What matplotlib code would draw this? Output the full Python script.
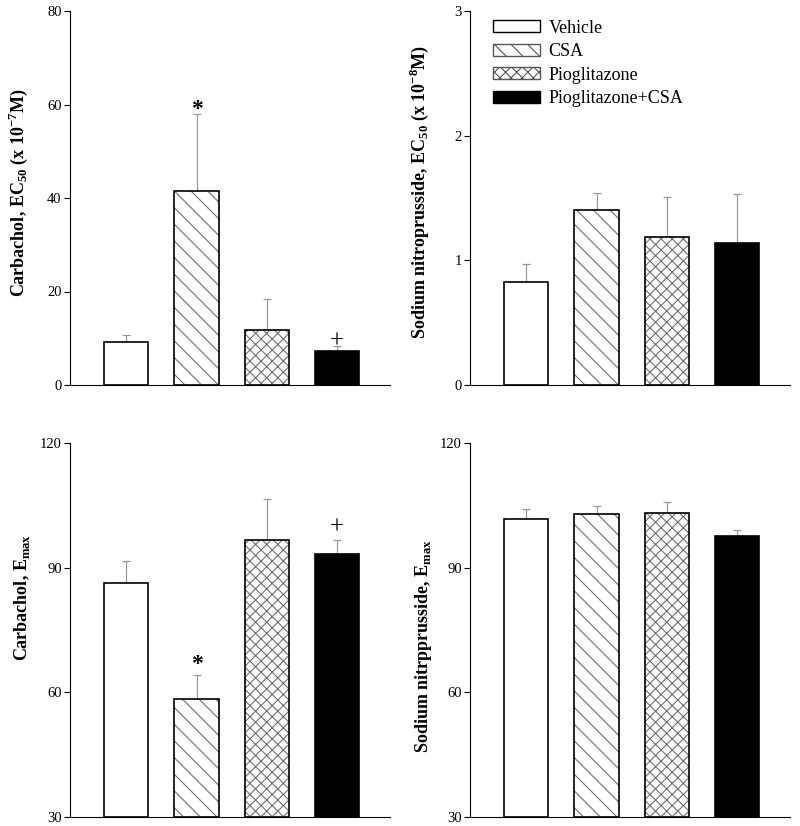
import numpy as np
import matplotlib.pyplot as plt
from matplotlib.patches import Patch

plt.rcParams['font.family'] = ['Liberation Serif', 'DejaVu Serif']
plt.rcParams['mathtext.fontset'] = 'custom'
plt.rcParams['mathtext.rm'] = 'Liberation Serif'
plt.rcParams['mathtext.bf'] = 'Liberation Serif:bold'
plt.rcParams['hatch.linewidth'] = 0.8

groups = ['Vehicle', 'CSA', 'Pioglitazone', 'Pioglitazone+CSA']

cch_ec50 = [9.1, 41.6, 11.8, 7.2]
cch_ec50_err = [1.6, 16.4, 6.5, 1.1]
snp_ec50 = [0.83, 1.40, 1.19, 1.14]
snp_ec50_err = [0.14, 0.14, 0.32, 0.39]
cch_emax = [86.2, 58.5, 96.6, 93.2]
cch_emax_err = [5.5, 5.7, 9.9, 3.4]
snp_emax = [101.8, 103.0, 103.1, 97.7]
snp_emax_err = [2.4, 1.9, 2.7, 1.3]

fills = ['white', 'white', 'white', 'black']
hatches = [None, '\\\\', 'xxx', None]
hatch_col = '#707070'

fig = plt.figure(figsize=(8.0, 8.26), dpi=100)
W, H = 800, 826


def make_ax(l, r, t, b):
    return fig.add_axes([l / W, 1 - b / H, (r - l) / W, (b - t) / H])


def draw_panel(ax, vals, errs, ylim, yticks, ylabel, label_xy, marks=None, legend=False):
    x = np.arange(1, 5)
    w = 0.63
    # hatch pass in grey, then black outline on top
    for i in range(4):
        ax.bar(x[i], vals[i] - ylim[0], w, bottom=ylim[0], color=fills[i],
               hatch=hatches[i], edgecolor=hatch_col, linewidth=0, zorder=2)
    for i in range(4):
        ax.bar(x[i], vals[i] - ylim[0], w, bottom=ylim[0], fill=False,
               edgecolor='black', linewidth=1.2, zorder=3)
    ax.errorbar(x, vals, yerr=[np.zeros(4), errs], fmt='none', ecolor='#9a9a9a',
                elinewidth=0.9, capsize=3, capthick=0.9, zorder=1)
    ax.set_xlim(0.2, 4.75)
    ax.set_ylim(*ylim)
    ax.set_yticks(yticks)
    ax.set_xticks([])
    for s in ['top', 'right']:
        ax.spines[s].set_visible(False)
    ax.tick_params(axis='y', direction='out', length=4, labelsize=10.5, pad=2)
    ax.set_ylabel(ylabel, fontsize=13, fontweight='bold')
    ax.yaxis.set_label_coords(*label_xy)
    if marks:
        for i, (txt, yv, fs) in marks.items():
            ax.text(x[i], yv, txt, ha='center', va='center', fontsize=fs,
                    fontweight='bold' if txt == '*' else 'normal', zorder=4)
    if legend:
        lh = [Patch(facecolor=fills[i], hatch=hatches[i], edgecolor='black',
                    linewidth=1.0) for i in range(4)]
        leg = ax.legend(lh, groups, loc='upper left', bbox_to_anchor=(0.02, 1.02),
                        frameon=False, fontsize=13, handlelength=2.65,
                        handleheight=0.65, labelspacing=0.36, handletextpad=0.45)
        for p in leg.get_patches():
            if p.get_hatch():
                p.set_edgecolor('#555555')


ax1 = make_ax(70, 390, 11, 385)
draw_panel(ax1, cch_ec50, cch_ec50_err, (0, 80), [0, 20, 40, 60, 80],
           r'Carbachol, EC$_{\mathbf{50}}$ (x 10$^{\mathbf{-7}}$M)', (-0.124, 0.513),
           marks={1: ('*', 59.0, 17), 3: ('+', 9.4, 18)})

ax2 = make_ax(470, 790, 11, 385)
draw_panel(ax2, snp_ec50, snp_ec50_err, (0, 3), [0, 1, 2, 3],
           r'Sodium nitroprusside, EC$_{\mathbf{50}}$ (x 10$^{\mathbf{-8}}$M)', (-0.121, 0.516),
           legend=True)

ax3 = make_ax(70, 390, 443, 817)
draw_panel(ax3, cch_emax, cch_emax_err, (30, 120), [30, 60, 90, 120],
           r'Carbachol, E$_{\mathbf{max}}$', (-0.12, 0.588),
           marks={1: ('*', 66.6, 17), 3: ('+', 99.6, 18)})

ax4 = make_ax(470, 790, 443, 817)
draw_panel(ax4, snp_emax, snp_emax_err, (30, 120), [30, 60, 90, 120],
           r'Sodium nitrpprusside, E$_{\mathbf{max}}$', (-0.112, 0.457))

fig.savefig('out.png', dpi=100)
